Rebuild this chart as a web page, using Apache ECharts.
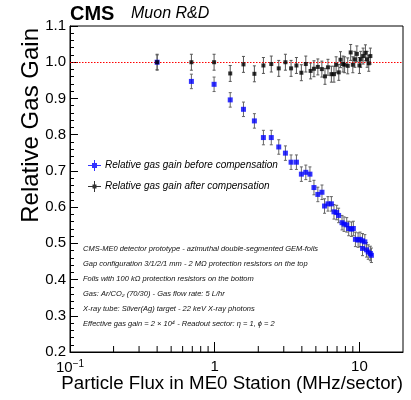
<!DOCTYPE html>
<html><head><meta charset="utf-8">
<script src="https://cdn.jsdelivr.net/npm/echarts@6/dist/echarts.min.js"></script>
<style>html,body{margin:0;padding:0;background:#fff}#c{width:411px;height:400px}</style>
</head><body><div id="c"></div>
<script>
// Data
const fluxBefore = [0.40, 0.69, 0.99, 1.28, 1.58, 1.88, 2.17, 2.46, 2.77, 3.08, 3.37, 3.67, 3.97, 4.26, 4.55, 4.85, 5.16, 5.51, 5.74, 6.06, 6.40, 6.67, 6.96, 7.18, 7.58, 7.83, 8.17, 8.43, 8.80, 9.08, 9.38, 9.79, 10.1, 10.5, 10.9, 10.5, 11.2, 11.5, 11.9, 12.1];
const gainBefore = [1.0, 0.947, 0.939, 0.896, 0.870, 0.838, 0.792, 0.792, 0.766, 0.749, 0.724, 0.724, 0.691, 0.696, 0.691, 0.654, 0.635, 0.641, 0.603, 0.609, 0.609, 0.587, 0.585, 0.577, 0.557, 0.553, 0.551, 0.541, 0.539, 0.541, 0.511, 0.509, 0.511, 0.507, 0.504, 0.486, 0.482, 0.476, 0.472, 0.467];
const fluxAfter = [0.40, 0.69, 0.99, 1.28, 1.58, 1.88, 2.17, 2.46, 2.77, 3.08, 3.37, 3.67, 3.97, 4.26, 4.6, 4.85, 5.16, 5.5, 5.78, 6.06, 6.4, 6.67, 6.9, 7.2, 7.4, 7.7, 7.9, 8.3, 8.7, 9.0, 9.3, 9.6, 10.0, 10.2, 10.6, 11.0, 11.3, 11.6, 11.9];
const gainAfter = [1.0, 1.0, 1.0, 0.969, 0.994, 0.968, 0.991, 0.995, 0.983, 1.0, 0.983, 0.991, 0.971, 0.995, 0.976, 0.982, 0.987, 0.981, 0.961, 0.986, 0.967, 0.967, 0.993, 0.972, 1.007, 0.995, 0.993, 0.99, 1.027, 0.993, 1.008, 1.023, 0.991, 1.008, 1.017, 1.026, 1.008, 0.997, 1.017];
const errBefore = 0.02;
const errAfter = 0.022;
const referenceGain = 1.0;
const xMinorTickValues = [0.2, 0.3, 0.4, 0.5, 0.6, 0.7, 0.8, 0.9, 2, 3, 4, 5, 6, 7, 8, 9];
const xMajorTickLabels = [[0.1, '{b|10}{s|−1}'], [1, '{b|1}'], [10, '{b|10}']];
const seriesNames = ['Relative gas gain before compensation', 'Relative gas gain after compensation'];
const infoLines = [
  'CMS-ME0 detector prototype - azimuthal double-segmented GEM-foils',
  'Gap configuration 3/1/2/1 mm - 2 MΩ protection resistors on the top',
  'Foils with 100 kΩ protection resistors on the bottom',
  'Gas: Ar/CO₂ (70/30) - Gas flow rate: 5 L/hr',
  'X-ray tube: Silver(Ag) target - 22 keV X-ray photons',
  'Effective gas gain = 2 × 10⁴ - Readout sector: η = 1, ϕ = 2'
];

const FONT = 'Liberation Sans, Arial, sans-serif';
const before = fluxBefore.map((x, i) => [x, gainBefore[i], errBefore]);
const after = fluxAfter.map((x, i) => [x, gainAfter[i], errAfter]);

function errRender(color) {
  return function (params, api) {
    const x = api.value(0), y = api.value(1), e = api.value(2);
    const t = api.coord([x, y + e]);
    const b = api.coord([x, y - e]);
    const st = {stroke: color, lineWidth: 1};
    return {type: 'group', children: [
      {type: 'line', shape: {x1: t[0], y1: t[1], x2: b[0], y2: b[1]}, style: st},
      {type: 'line', shape: {x1: t[0] - 1.5, y1: t[1], x2: t[0] + 1.5, y2: t[1]}, style: st},
      {type: 'line', shape: {x1: b[0] - 1.5, y1: b[1], x2: b[0] + 1.5, y2: b[1]}, style: st}
    ]};
  };
}

const chart = echarts.init(document.getElementById('c'), null, {renderer: 'canvas'});
const graphics = [
  {type: 'text', left: 70, top: 4, style: {text: 'CMS', font: 'bold 20px ' + FONT, fill: '#000'}},
  {type: 'text', left: 131, top: 6, style: {text: 'Muon R&D', font: 'italic 16px ' + FONT, fill: '#000'}},
  {type: 'text', x: 31, y: 28, rotation: Math.PI / 2, style: {text: 'Relative Gas Gain', font: '24px ' + FONT, fill: '#000', align: 'right', verticalAlign: 'middle'}},
  {type: 'text', x: 403, y: 384, style: {text: 'Particle Flux in ME0 Station (MHz/sector)', font: '18.7px ' + FONT, fill: '#000', align: 'right', verticalAlign: 'middle'}}
];
infoLines.forEach((t, i) => graphics.push({type: 'text', x: 83, y: 249 + i * 15, style: {text: t, font: 'italic 7.5px ' + FONT, fill: '#111', verticalAlign: 'middle'}}));

chart.setOption({
  animation: false,
  backgroundColor: '#fff',
  grid: {left: 70, right: 8, top: 26, bottom: 48, show: true, borderColor: '#000', borderWidth: 1, backgroundColor: 'transparent'},
  xAxis: {
    type: 'log', logBase: 10, min: 0.1, max: 20,
    axisLine: {show: true, lineStyle: {color: '#000', width: 1}},
    axisTick: {show: true, inside: true, length: 10, lineStyle: {color: '#000'}},
    splitLine: {show: false},
    axisLabel: {
      margin: 7, color: '#000', fontFamily: FONT, fontSize: 15, showMaxLabel: false,
      formatter: function (v) {
        for (const [val, lab] of xMajorTickLabels) { if (Math.abs(v - val) / val < 1e-6) return lab; }
        return '';
      },
      rich: {b: {fontSize: 15, fontFamily: FONT, color: '#000'}, s: {fontSize: 10, fontFamily: FONT, color: '#000', verticalAlign: 'top', padding: [0, 0, 7, 0]}}
    }
  },
  yAxis: {
    type: 'value', min: 0.2, max: 1.1, interval: 0.1,
    axisLine: {show: true, lineStyle: {color: '#000', width: 1}},
    axisTick: {show: true, inside: true, length: 8, lineStyle: {color: '#000'}},
    minorTick: {show: true, splitNumber: 5, length: 4, lineStyle: {color: '#000'}},
    splitLine: {show: false},
    axisLabel: {margin: 4, color: '#000', fontFamily: FONT, fontSize: 15, formatter: v => v.toFixed(1)}
  },
  legend: {
    orient: 'vertical', left: 88, top: 160, padding: 0, itemGap: 10, itemWidth: 13, itemHeight: 11,
    textStyle: {fontStyle: 'italic', fontSize: 10, fontFamily: FONT, color: '#000', padding: [0, 0, 0, -1]},
    data: [
      {name: seriesNames[0], icon: 'path://M0,5H13V6H0Z M6,0H7V11H6Z M4,3H9V8H4Z', itemStyle: {color: '#0000ff'}},
      {name: seriesNames[1], icon: 'path://M0,5H13V6H0Z M6,0H7V11H6Z M4.5,3.5H8.5V7.5H4.5Z', itemStyle: {color: '#000'}}
    ]
  },
  graphic: graphics,
  series: [
    {type: 'line', data: [], silent: true, z: 1,
     markLine: {silent: true, symbol: ['none', 'none'], label: {show: false}, lineStyle: {color: '#ff0000', type: [1.5, 1.5], width: 1}, data: [{yAxis: referenceGain}]}},
    {type: 'custom', name: 'minorTicksX', silent: true, z: 2, data: xMinorTickValues.map(v => [v]),
     renderItem: function (params, api) { const p = api.coord([api.value(0), 0.2]); return {type: 'line', shape: {x1: p[0], y1: p[1], x2: p[0], y2: p[1] - 6}, style: {stroke: '#000', lineWidth: 1}}; },
     encode: {x: 0}},
    {type: 'custom', silent: true, z: 3, data: before, renderItem: errRender('#666'), encode: {x: 0, y: 1}},
    {type: 'custom', silent: true, z: 3, data: after, renderItem: errRender('#555'), encode: {x: 0, y: 1}},
    {type: 'scatter', name: seriesNames[0], data: before, symbol: 'rect', symbolSize: [5, 5], itemStyle: {color: '#0000ff'}, z: 5},
    {type: 'scatter', name: seriesNames[1], data: after, symbol: 'rect', symbolSize: [4, 4], itemStyle: {color: '#000'}, z: 6}
  ]
});
</script></body></html>
